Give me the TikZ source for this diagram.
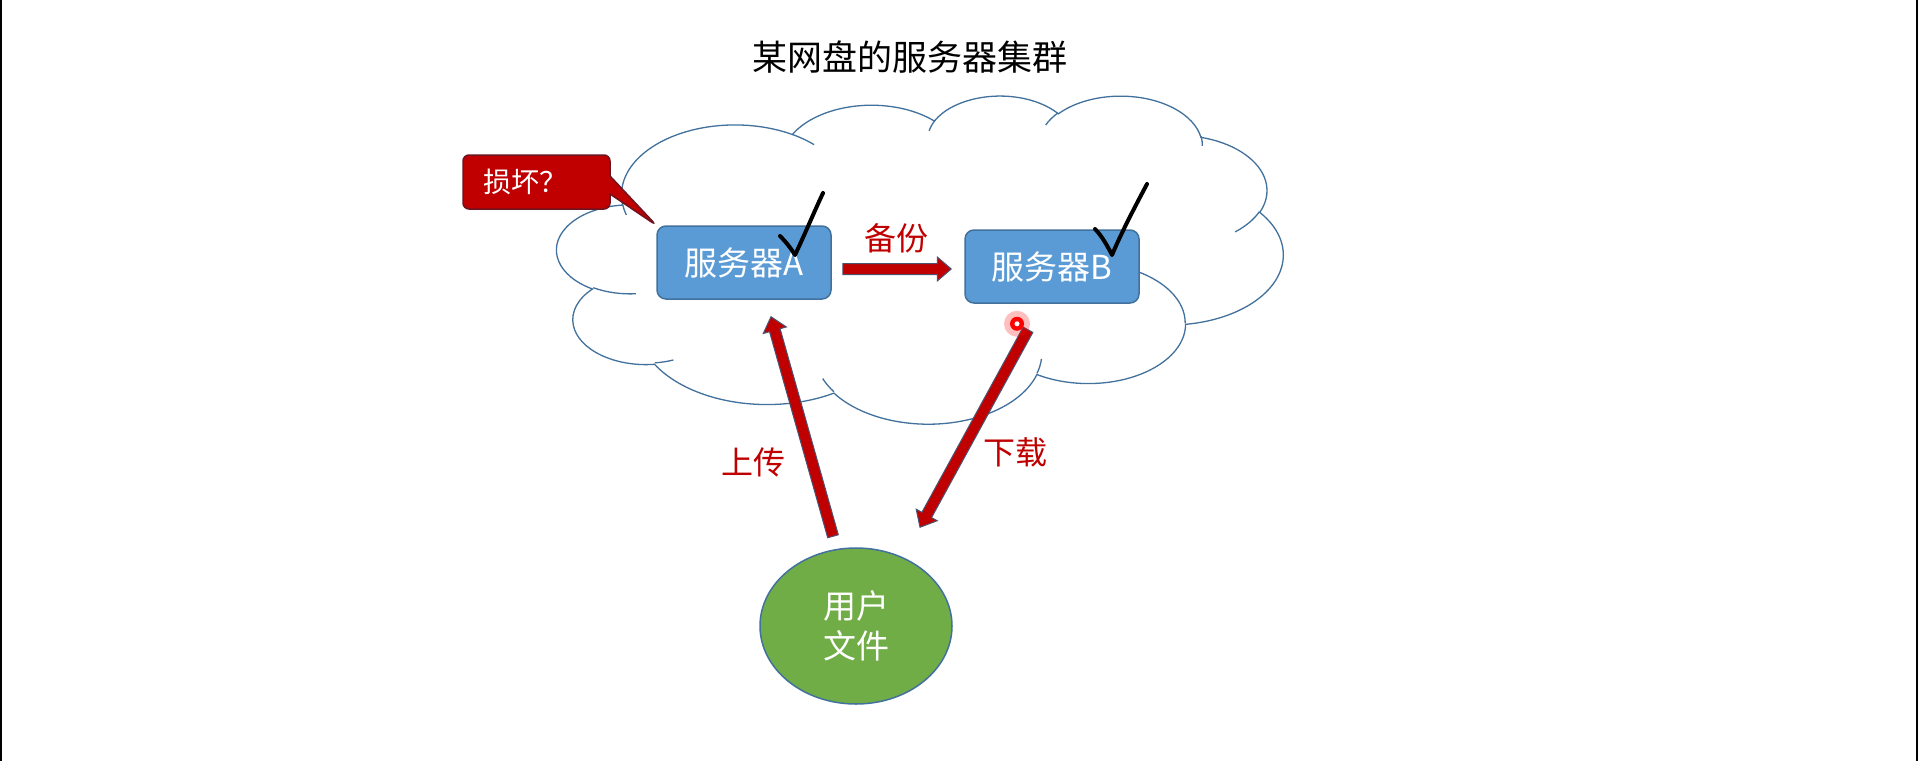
\documentclass[tikz,border=0pt]{standalone}
\usepackage{fontspec}
\setmainfont{Noto Sans CJK SC}
\usetikzlibrary{calc,shapes.geometric,shapes.callouts}

\definecolor{srvfill}{HTML}{5B9BD5}
\definecolor{srvline}{HTML}{41719C}
\definecolor{userfill}{HTML}{70AD47}
\definecolor{darkred}{HTML}{C00000}
\definecolor{arrowline}{HTML}{4A5470}
\definecolor{callline}{HTML}{6E1420}

% one bump of the cloud outline (radii, start angle, sweep)
\newcommand\puff[4]{arc[x radius=#1, y radius=#2,
  start angle={atan2(#1*sin(#3),#2*cos(#3))},
  delta angle={mod(atan2(#1*sin(#3+#4),#2*cos(#3+#4))-atan2(#1*sin(#3),#2*cos(#3))+720,360)}]}

% fat red arrow from #1 to #2
\newcommand\blockarrow[2]{%
  \coordinate (ba) at ($(#2)!14pt!(#1)$);
  \draw[bigarrow] ($(#1)!5.5pt!90:(#2)$) -- ($(ba)!5.5pt!90:(#2)$) -- ($(ba)!12pt!90:(#2)$) -- (#2)
    -- ($(ba)!12pt!-90:(#2)$) -- ($(ba)!5.5pt!-90:(#2)$) -- ($(#1)!5.5pt!-90:(#2)$) -- cycle;}

\tikzset{
  server/.style={draw=srvline, line width=1.5pt, fill=srvfill, rounded corners=9pt,
    minimum width=174pt, minimum height=73pt, inner sep=0pt, text=white,
    font=\fontsize{33}{40}\selectfont},
  userfile/.style={ellipse, draw=srvline, line width=1.5pt, fill=userfill,
    minimum width=192pt, minimum height=156pt, inner sep=0pt, text=white, align=center,
    font=\fontsize{33}{40}\selectfont},
  damage/.style={rectangle callout, draw=callline, line width=1.5pt, fill=darkred,
    rounded corners=6pt, minimum width=147pt, minimum height=54pt, text width=107pt,
    inner xsep=20pt, align=left, text=white, callout pointer width=18pt,
    font=\fontsize{28}{32}\selectfont},
  lbl/.style={text=darkred, inner sep=0pt, font=\fontsize{32}{38}\selectfont},
  bigarrow/.style={fill=darkred, draw=arrowline, line width=1pt, line join=miter},
  cloudline/.style={draw=srvline, line width=1.3pt},
  tick/.style={black, line width=4pt, line cap=round, line join=round},
}

\begin{document}
\begin{tikzpicture}[x=1pt,y=-1pt]
    \fill[white] (0,0) rectangle (1918,761);
    \useasboundingbox (0,0) rectangle (1918,761);
    \draw[line width=2pt] (1,0) -- (1,761);
    \draw[line width=2pt] (1917,0) -- (1917,761);

    \node[inner sep=0pt, font=\fontsize{35}{40}\selectfont] (title) at (910,57) {某网盘的服务器集群};

    % cloud
    \begin{scope}[shift={(557,95)}, x=1.68056pt, y=-0.75926pt]
        \draw[cloudline, fill=white] (39.00,143.70)
            \puff{67.53}{91.90}{-190.4875}{123.7805}
            \puff{53.33}{72.67}{-144.1024}{89.9452}
            \puff{43.65}{59.45}{-145.8079}{99.7230}
            \puff{48.57}{65.95}{-130.9861}{117.2417}
            \puff{53.33}{72.73}{-78.7089}{109.0269}
            \puff{67.75}{92.20}{-46.2673}{130.2690}
            \puff{57.85}{78.67}{0.6250}{114.0333}
            \puff{67.52}{92.15}{22.4516}{115.1726}
            \puff{77.20}{105.43}{66.2426}{75.7110}
            \puff{43.60}{59.18}{-274.9421}{146.7356}
            \puff{43.45}{59.45}{-246.8285}{152.5189} -- cycle;
        \draw[cloudline]
            (46.93,261.77) \puff{43.45}{59.45}{86.7420}{26.4295}
            (69.28,348.99) \puff{43.60}{59.18}{73.6105}{11.4475}
            (164.78,390.90) \puff{67.52}{92.15}{137.6242}{14.0811}
            (288.27,347.51) \puff{67.52}{92.15}{6.4533}{15.9984}
            (341.29,229.54) \puff{57.85}{78.67}{-70.2924}{70.9174}
            (417.98,153.54) \puff{53.33}{72.73}{30.3180}{27.7515}
            (383.24,54.26) \puff{48.57}{65.95}{-13.7443}{14.8589}
            (290.78,39.52) \puff{48.57}{65.95}{-149.1815}{18.1954}
            (221.41,47.20) \puff{43.65}{59.45}{-163.4943}{17.6864}
            (140.00,51.92) \puff{67.53}{91.90}{-66.7070}{12.3194}
            (41.27,157.89) \puff{67.53}{91.90}{157.6544}{11.8638};
    \end{scope}

    \node[server] (srvA) at (744,262.5) {服务器A};
    \node[server] (srvB) at (1052,266.5) {服务器B};
    \node[userfile] (user) at (856,626) {用户\\文件};
    \node[damage, callout absolute pointer={(srvA.north west)}] (dmg) at (536.5,182) {损坏？};

    \coordinate (bkT) at ($(srvA.east)+(11,6.5)$);
    \coordinate (bkH) at ($(srvB.west)+(-13,2.5)$);
    \coordinate (upT) at ($(user.north)+(-23,-11)$);
    \coordinate (upH) at ($(srvA.south)+(27,17)$);
    \coordinate (dnT) at ($(srvB.south)+(-24,26)$);
    \coordinate (dnH) at ($(user.north)+(64,-20)$);

    \blockarrow{bkT}{bkH}
    \blockarrow{upT}{upH}
    \blockarrow{dnT}{dnH}

    \node[lbl] (bkLbl) at (896,238) {备份};
    \node[lbl] (upLbl) at (753,462) {上传};
    \node[lbl] (dnLbl) at (1015,452) {下载};

    % hand drawn ticks
    \draw[tick] (780,236) .. controls (787,243) and (792,250) .. (795,255) .. controls (804,236) and (815,210) .. (823,193);
    \draw[tick] (1095,229) .. controls (1102,236) and (1108,247) .. (1112,255) .. controls (1122,231) and (1138,201) .. (1147,184);

    % pointer dot
    \fill[red, opacity=.25] ($(dnT)+(-11,-6)$) circle (13);
    \fill[red] ($(dnT)+(-11,-6)$) circle (7);
    \fill[white] ($(dnT)+(-11,-6)$) circle (2.5);
\end{tikzpicture}
\end{document}
